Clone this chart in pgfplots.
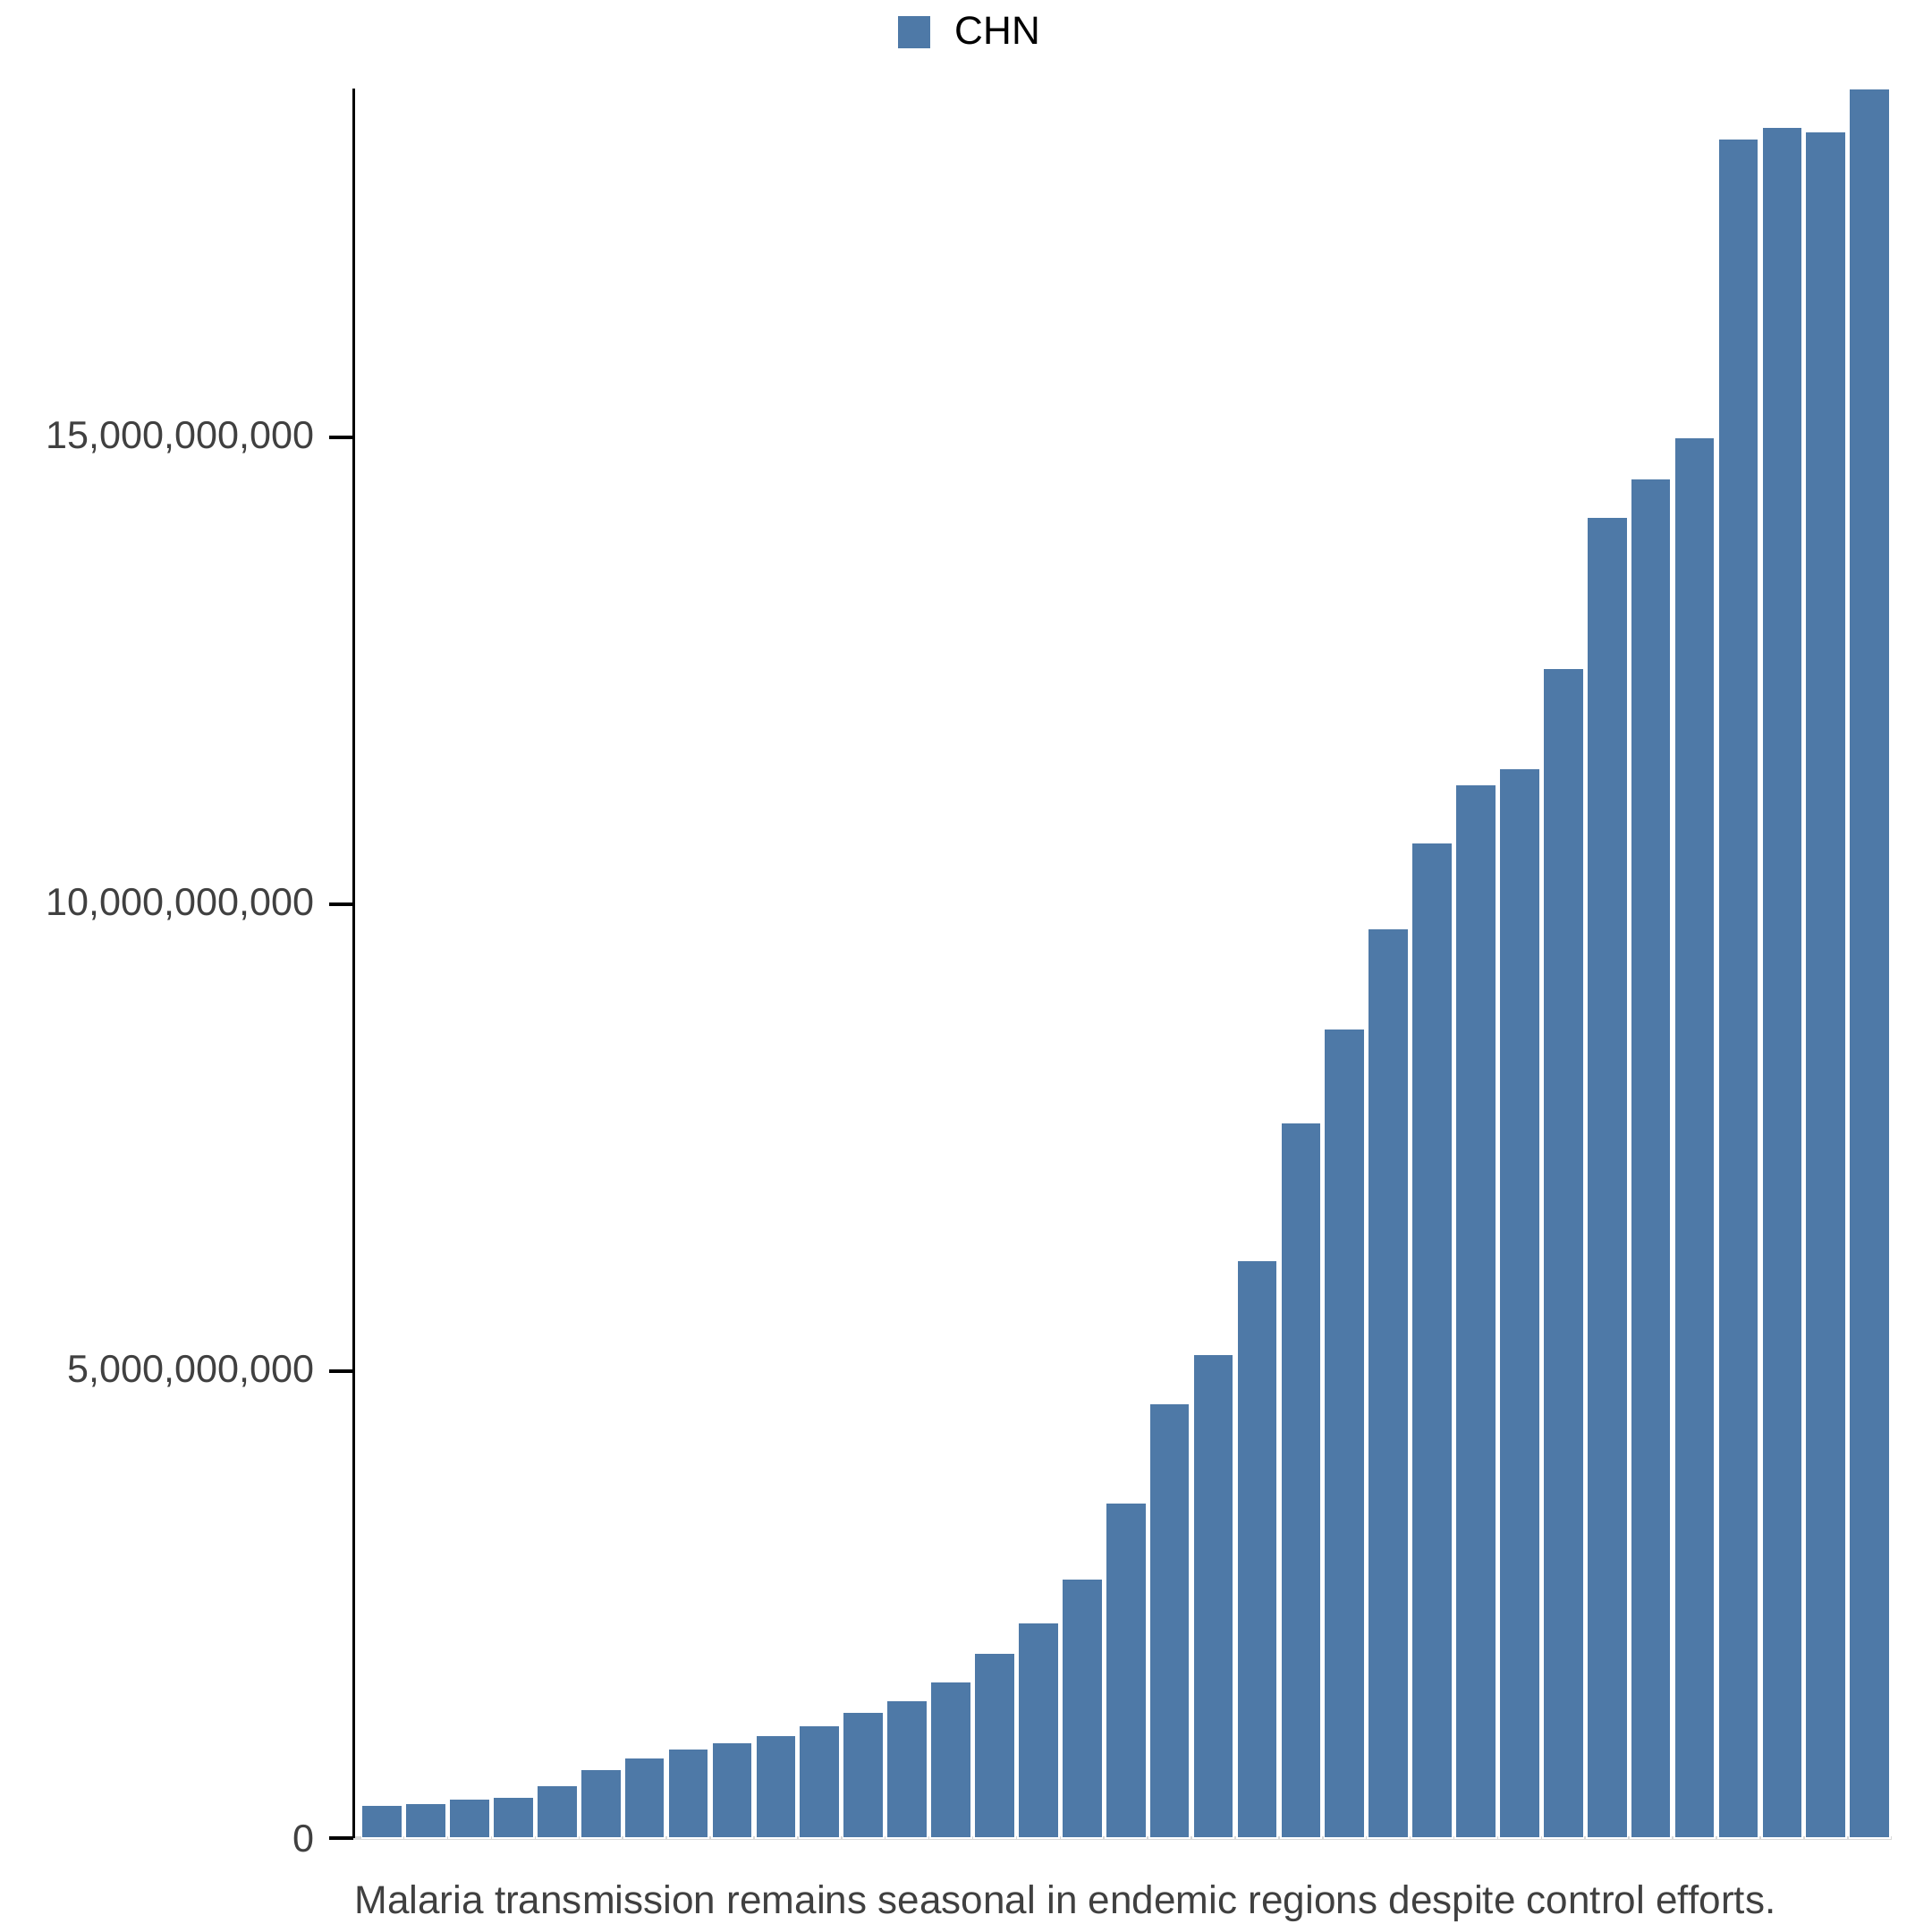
\documentclass[border=0pt]{standalone}
\usepackage{pgfplots}
\pgfplotsset{compat=1.18}
\usepackage{fontspec}
\setmainfont{Liberation Sans}
\definecolor{barc}{HTML}{4E79A7}
\begin{document}
\begin{tikzpicture}
\begin{axis}[
  scale only axis, width=374.4pt, height=426pt,
  xmin=0.35, xmax=35.5, ymin=0, ymax=18.73e9,
  ybar, bar width=0.93, bar shift=0pt,
  axis x line*=bottom, axis y line*=left,
  x axis line style={draw=black!15, line width=0.8pt},
  y axis line style={draw=black, line width=0.8pt},
  xtick=\empty,
  ytick={0,5e9,10e9,15e9},
  yticklabels={0,{5,000,000,000},{10,000,000,000},{15,000,000,000}},
  yticklabel style={font=\fontsize{9.4}{11}\selectfont, text=black!75},
  y tick style={black, line width=0.8pt}, tick align=outside, major tick length=6pt,
  scaled y ticks=false,
  clip=false,
  legend style={at={(0.403,1.0317)}, anchor=center, draw=none, font=\fontsize{9.6}{11}\selectfont, legend cell align=left},
  legend image code/.code={\fill[barc] (0pt,-3.5pt) rectangle (7.5pt,4pt);},
]
\addplot[fill=barc, draw=white, line width=0.4pt] coordinates {
(1,0.36e9)(2,0.38e9)(3,0.42e9)(4,0.44e9)(5,0.57e9)(6,0.74e9)(7,0.86e9)(8,0.96e9)(9,1.03e9)(10,1.10e9)
(11,1.21e9)(12,1.35e9)(13,1.48e9)(14,1.68e9)(15,1.98e9)(16,2.31e9)(17,2.78e9)(18,3.59e9)(19,4.66e9)(20,5.18e9)
(21,6.19e9)(22,7.66e9)(23,8.67e9)(24,9.74e9)(25,10.66e9)(26,11.28e9)(27,11.45e9)(28,12.53e9)(29,14.14e9)(30,14.56e9)
(31,15.0e9)(32,18.19e9)(33,18.32e9)(34,18.27e9)(35,18.73e9)};
\addlegendentry{\hspace{4pt}CHN}
\coordinate (bl) at (rel axis cs:-0.23,-0.0535);
\coordinate (tr) at (rel axis cs:1.0264,1.0507);
\node[anchor=north west, inner sep=0pt, font=\fontsize{9.6}{11}\selectfont, text=black!75] at (rel axis cs:0,-0.026) {Malaria transmission remains seasonal in endemic regions despite control efforts.};
\end{axis}
\pgfresetboundingbox
\path[use as bounding box] (bl) rectangle (tr);
\end{tikzpicture}
\end{document}
